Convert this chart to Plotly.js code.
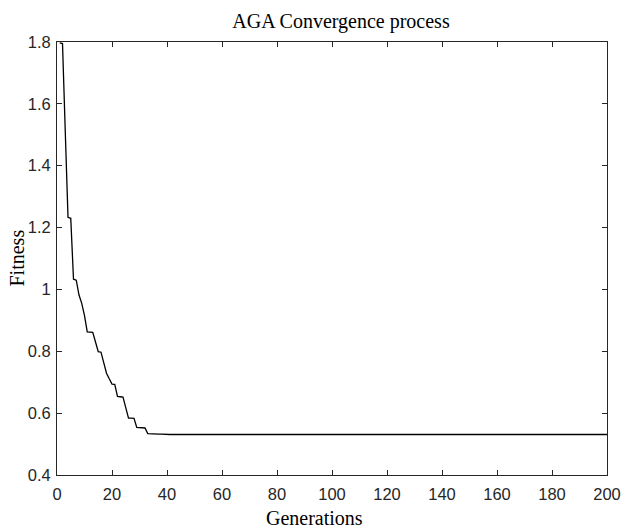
<!DOCTYPE html>
<html>
<head>
<meta charset="utf-8">
<script src="https://cdn.plot.ly/plotly-3.0.1.min.js"></script>
<style>html,body{margin:0;padding:0;background:#fff;}#chart{width:626px;height:528px;}</style>
</head>
<body>
<div id="chart"></div>
<script>
const generations = [
  1,2,3,4,5,6,7,8,9,10,11,12,13,14,15,16,17,18,19,20,
  21,22,23,24,25,26,27,28,29,30,31,32,33,34,35,36,37,38,39,40,
  41,42,43,44,45,46,47,48,49,50,51,52,53,54,55,56,57,58,59,60,
  61,62,63,64,65,66,67,68,69,70,71,72,73,74,75,76,77,78,79,80,
  81,82,83,84,85,86,87,88,89,90,91,92,93,94,95,96,97,98,99,100,
  101,102,103,104,105,106,107,108,109,110,111,112,113,114,115,116,117,118,119,120,
  121,122,123,124,125,126,127,128,129,130,131,132,133,134,135,136,137,138,139,140,
  141,142,143,144,145,146,147,148,149,150,151,152,153,154,155,156,157,158,159,160,
  161,162,163,164,165,166,167,168,169,170,171,172,173,174,175,176,177,178,179,180,
  181,182,183,184,185,186,187,188,189,190,191,192,193,194,195,196,197,198,199,200
];
const fitness = [
  1.797,1.795,1.512,1.233,1.230,1.033,1.030,0.982,0.955,0.915,0.863,0.862,0.861,0.830,0.799,0.797,0.762,0.729,0.711,0.694,
  0.693,0.654,0.653,0.652,0.618,0.584,0.584,0.583,0.554,0.553,0.553,0.552,0.534,0.533,0.533,0.532,0.532,0.532,0.531,0.531,
  0.531,0.531,0.531,0.531,0.531,0.531,0.531,0.531,0.531,0.531,0.531,0.531,0.531,0.531,0.531,0.531,0.531,0.531,0.531,0.531,
  0.531,0.531,0.531,0.531,0.531,0.531,0.531,0.531,0.531,0.531,0.531,0.531,0.531,0.531,0.531,0.531,0.531,0.531,0.531,0.531,
  0.531,0.531,0.531,0.531,0.531,0.531,0.531,0.531,0.531,0.531,0.531,0.531,0.531,0.531,0.531,0.531,0.531,0.531,0.531,0.531,
  0.531,0.531,0.531,0.531,0.531,0.531,0.531,0.531,0.531,0.531,0.531,0.531,0.531,0.531,0.531,0.531,0.531,0.531,0.531,0.531,
  0.531,0.531,0.531,0.531,0.531,0.531,0.531,0.531,0.531,0.531,0.531,0.531,0.531,0.531,0.531,0.531,0.531,0.531,0.531,0.531,
  0.531,0.531,0.531,0.531,0.531,0.531,0.531,0.531,0.531,0.531,0.531,0.531,0.531,0.531,0.531,0.531,0.531,0.531,0.531,0.531,
  0.531,0.531,0.531,0.531,0.531,0.531,0.531,0.531,0.531,0.531,0.531,0.531,0.531,0.531,0.531,0.531,0.531,0.531,0.531,0.531,
  0.531,0.531,0.531,0.531,0.531,0.531,0.531,0.531,0.531,0.531,0.531,0.531,0.531,0.531,0.531,0.531,0.531,0.531,0.531,0.531
];
const xTickVals = [0,20,40,60,80,100,120,140,160,180,200];
const xTickText = ['0','20','40','60','80','100','120','140','160','180','200'];
const yTickVals = [0.4,0.6,0.8,1.0,1.2,1.4,1.6,1.8];
const yTickText = ['0.4','0.6','0.8','1','1.2','1.4','1.6','1.8'];
const chartTitle = 'AGA Convergence process';
const xLabel = 'Generations';
const yLabel = 'Fitness';

const axisColor = '#262626';
const tickFont = {family: 'Liberation Sans, Arial, sans-serif', size: 16.5, color: axisColor};
const serif = {family: 'Liberation Serif, Times New Roman, serif', size: 20, color: '#000'};

const trace = {
  x: generations, y: fitness, type: 'scatter', mode: 'lines',
  line: {color: '#000', width: 1.3}, hoverinfo: 'skip'
};

const axisBase = {
  showline: true, linecolor: axisColor, linewidth: 1, mirror: 'ticks',
  ticks: 'inside', ticklen: 5, tickwidth: 1, tickcolor: axisColor,
  showgrid: false, zeroline: false, tickfont: tickFont, fixedrange: true
};

const layout = {
  width: 626, height: 528,
  margin: {l: 57, r: 19, t: 42, b: 53, pad: 0},
  paper_bgcolor: '#fff', plot_bgcolor: '#fff',
  showlegend: false,
  title: {text: chartTitle, font: serif, x: 341/626, xref: 'container', xanchor: 'center',
          y: 1 - 21/528, yref: 'container', yanchor: 'middle'},
  xaxis: Object.assign({}, axisBase, {range: [0, 200], tickmode: 'array', tickvals: xTickVals, ticktext: xTickText, ticklabelstandoff: 4}),
  yaxis: Object.assign({}, axisBase, {range: [0.4, 1.8], tickmode: 'array', tickvals: yTickVals, ticktext: yTickText, ticklabelstandoff: 2}),
  annotations: [
    {text: xLabel, xref: 'paper', yref: 'paper', x: (314 - 57) / 550, y: (475.3 - 518) / 433.6,
     xanchor: 'center', yanchor: 'middle', showarrow: false, font: serif},
    {text: yLabel, xref: 'paper', yref: 'paper', x: (16 - 57) / 550, y: 0.5, textangle: -90,
     xanchor: 'center', yanchor: 'middle', showarrow: false, font: serif}
  ]
};

Plotly.newPlot('chart', [trace], layout, {displayModeBar: false, staticPlot: true});
</script>
</body>
</html>
